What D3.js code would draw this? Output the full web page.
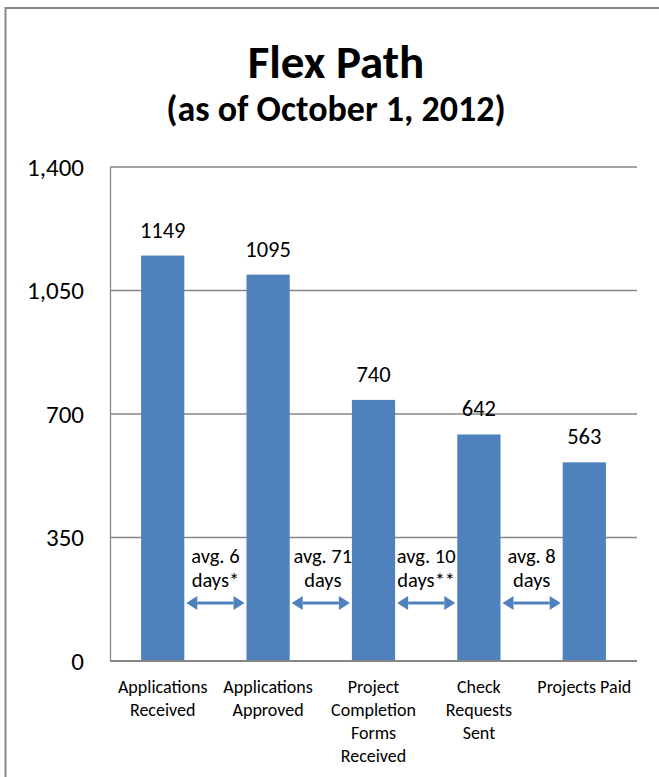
<!DOCTYPE html>
<html><head><meta charset="utf-8">
<script src="https://cdn.jsdelivr.net/npm/d3@7"></script>
<style>
html,body{margin:0;padding:0;background:#fff;}
text{font-family:Carlito,Lato,"Open Sans",sans-serif;fill:#000;}
</style></head>
<body>
<script>
const categories = [["Applications","Received"],["Applications","Approved"],["Project","Completion","Forms","Received"],["Check","Requests","Sent"],["Projects Paid"]];
const values = [1149, 1095, 740, 642, 563];
const yTicks = [0, 350, 700, 1050, 1400];
const gapNotes = [["avg. 6","days*"],["avg. 71","days"],["avg. 10","days**"],["avg. 8","days"]];

(function(){
const W = 659, H = 777;
const svg = d3.select("body").append("svg").attr("width", W).attr("height", H);

// outer frame
svg.append("rect").attr("x",5.5).attr("y",8).attr("width",W+10).attr("height",H+10)
  .attr("fill","none").attr("stroke","#888").attr("stroke-width",2);

const pl = 110, pr = 637, pt = 167, pb = 661;
const x = d3.scaleBand().domain(d3.range(values.length)).range([pl, pr]).paddingInner(0.59).paddingOuter(0.295);
const y = d3.scaleLinear().domain([0,1400]).range([pb, pt]);

// title
svg.append("text").attr("x",336).attr("y",78).attr("text-anchor","middle")
  .style("font-size","47px").style("font-weight","bold").text("Flex Path");
svg.append("text").attr("x",336).attr("y",121).attr("text-anchor","middle")
  .style("font-size","36px").style("font-weight","bold").text("(as of October 1, 2012)");

// gridlines
svg.append("g").selectAll("line").data(yTicks.filter(d=>d>0)).join("line")
  .attr("x1",pl).attr("x2",pr).attr("y1",d=>y(d)).attr("y2",d=>y(d))
  .attr("stroke","#868686").attr("stroke-width",1.3);

// y axis
const yAxis = d3.axisLeft(y).tickValues(yTicks).tickSize(0).tickPadding(26).tickFormat(d3.format(","));
const ga = svg.append("g").attr("transform",`translate(${pl},0)`).call(yAxis);
ga.select(".domain").attr("stroke","#868686").attr("stroke-width",1.3);
ga.selectAll("text").style("font-size","25px").attr("fill","#000");

// bars
svg.append("g").selectAll("rect").data(values).join("rect")
  .attr("x",(d,i)=>x(i)).attr("width",x.bandwidth())
  .attr("y",d=>y(d)).attr("height",d=>pb-y(d)).attr("fill","#4f81bd");

// baseline
svg.append("line").attr("x1",pl).attr("x2",pr).attr("y1",pb).attr("y2",pb)
  .attr("stroke","#868686").attr("stroke-width",2);

// value labels
svg.append("g").selectAll("text").data(values).join("text")
  .attr("x",(d,i)=>x(i)+x.bandwidth()/2).attr("y",d=>y(d)-18)
  .attr("text-anchor","middle").style("font-size","22.5px").text(d=>d);

// category labels
const cl = svg.append("g").selectAll("text").data(categories).join("text")
  .attr("x",(d,i)=>x(i)+x.bandwidth()/2).attr("y",693)
  .attr("text-anchor","middle").style("font-size","18px");
cl.selectAll("tspan").data(d=>d).join("tspan")
  .attr("x",function(){return d3.select(this.parentNode).attr("x");})
  .attr("dy",(d,i)=>i===0?0:23).text(d=>d);

// gap annotations
const gapCenter = i => (x(i)+x.bandwidth() + x(i+1))/2;
const gn = svg.append("g").selectAll("text").data(gapNotes).join("text")
  .attr("x",(d,i)=>gapCenter(i)+(i===1?2:0)).attr("y",563).attr("text-anchor","middle").style("font-size","20.5px");
gn.selectAll("tspan").data(d=>d).join("tspan")
  .attr("x",function(){return d3.select(this.parentNode).attr("x");})
  .attr("dy",(d,i)=>i===0?0:24).text(d=>d);

// arrows
const ay = 603, hw = 11, hh = 7;
const ag = svg.append("g");
gapNotes.forEach((d,i)=>{
  const x1 = x(i)+x.bandwidth()+2, x2 = x(i+1)-2;
  ag.append("line").attr("x1",x1+hw).attr("x2",x2-hw).attr("y1",ay).attr("y2",ay)
    .attr("stroke","#4f81bd").attr("stroke-width",3);
  ag.append("path").attr("d",`M${x1},${ay}L${x1+hw},${ay-hh}L${x1+hw},${ay+hh}Z`).attr("fill","#4f81bd");
  ag.append("path").attr("d",`M${x2},${ay}L${x2-hw},${ay-hh}L${x2-hw},${ay+hh}Z`).attr("fill","#4f81bd");
});
})();
</script>
</body></html>
